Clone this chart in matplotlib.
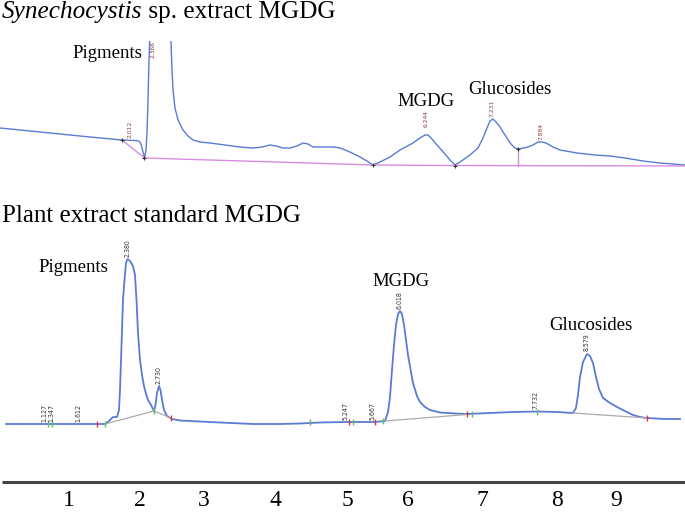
import matplotlib
matplotlib.use("Agg")
import matplotlib.pyplot as plt
from matplotlib.patches import Rectangle

# ---------------- data (pixel-like units) -------------
# Top chromatogram: Synechocystis sp. extract
top_x = [0, 30, 60, 90, 122, 135, 139, 141, 143, 144.5, 146, 147, 148, 149, 150, 152, 158,
         165, 170, 171, 172, 173, 175, 178, 183, 188, 193, 200, 210, 225, 240, 253, 262,
         270, 276, 283, 290, 297, 303, 308, 313, 320, 327, 334, 340, 350, 360, 367, 373,
         380, 390, 400, 413, 420, 425, 428, 432, 437, 445, 450, 455, 460, 470, 478, 483,
         487, 490, 493, 496, 500, 503, 507, 511, 515, 519, 523, 528, 533, 538, 542, 546,
         553, 560, 577, 595, 610, 625, 643, 660, 685]
top_y = [128, 131, 134, 137, 140, 140.5, 141, 144, 152, 158, 150, 133, 100, 60, 30, -20, -80,
         -60, 20, 42, 70, 90, 108, 120, 130, 136, 140, 142, 143, 145, 147, 148, 147,
         145, 146, 148, 148, 146, 143, 144, 147, 147, 147, 147, 148, 152, 157, 161, 165,
         162, 157, 150, 143, 138, 135, 135, 139, 145, 154, 160, 165, 162, 155, 148, 138,
         128, 121, 119, 122, 127, 132, 138, 144, 148, 149, 148, 147, 145, 142, 142, 143,
         147, 150, 153, 155, 156, 158, 161, 163, 165]
top_base1_x = [122, 144.5]
top_base1_y = [140, 158]
top_base2_x = [144.5, 373, 455, 685]
top_base2_y = [158, 165, 165.5, 166]
top_drop_x = 518
top_drop_y = [148.5, 166]
top_mark_x = [122, 144.5, 373, 455, 518]
top_mark_y = [140, 158, 165, 165.5, 148.5]
top_rt_labels = ["2.012", "2.366", "6.244", "7.231", "7.884"]
top_rt_x = [130, 153, 426, 492, 541]
top_rt_y = [138, 58, 127, 117, 140]

# Bottom chromatogram: plant extract standard MGDG
bot_x = [6, 40, 97, 105, 109, 113, 117, 119, 120, 121, 122, 123, 124.5, 126, 127.5, 130,
         133, 135, 136.5, 138, 140, 142, 144, 146, 148, 151, 154, 155.5, 157, 159, 160.5,
         162, 164, 167, 172, 180, 200, 220, 253, 280, 300, 320, 347, 375, 385, 388, 390,
         392, 394, 396, 398, 400, 402, 404, 406, 408, 411, 413, 417, 420, 425, 430, 440,
         455, 467, 490, 513, 537, 557, 573, 576, 578, 580, 583, 587, 590, 593, 596, 599,
         603, 610, 617, 625, 633, 640, 647, 665, 680]
bot_y = [424, 424, 424, 424, 421, 417, 417, 410, 390, 360, 330, 300, 280, 263, 259, 261,
         266, 275, 300, 333, 360, 375, 386, 394, 400, 405, 411, 405, 393, 386, 390,
         400, 410, 416, 419, 420.5, 421.5, 422.5, 424, 424, 423.5, 422.5, 422, 422, 421, 412, 397,
         370, 345, 325, 314, 311, 314, 325, 340, 355, 372, 383, 396, 402, 407, 410, 412.5,
         413.5, 414, 413, 412, 411.5, 412, 413, 408, 395, 377, 362, 354, 356, 363, 377, 389,
         398, 403, 407, 411, 415, 417, 418, 419, 419]
bot_base_segments = [([105, 154, 171], [424, 411, 418]),
                     ([385, 467], [421, 414.5]),
                     ([573, 647], [413, 418])]
bot_red_x = [97, 171, 349, 375, 467, 647]
bot_red_y = [424, 418, 422, 422, 414, 418]
bot_green_x = [48, 52, 105, 154, 310, 353, 383, 472, 537]
bot_green_y = [424, 424, 424, 411, 422, 422, 421, 414, 411.5]
bot_rt_labels = ["1.127", "1.347", "1.612", "2.380", "2.730", "5.247", "5.667",
                 "6.018", "7.732", "8.579"]
bot_rt_x = [44, 51, 78, 128, 159, 346, 373, 400, 535, 587]
bot_rt_y = [422, 422, 422, 257, 384, 420, 420, 309, 409, 351]

# Annotations
top_names = ["Pigments", "MGDG", "Glucosides"]
top_names_x = [107, 426, 510]
top_names_y = [53, 101, 90]
bot_names = ["Pigments", "MGDG", "Glucosides"]
bot_names_x = [73, 401, 591]
bot_names_y = [268, 281, 325]

# Bottom scale
scale_labels = ["1", "2", "3", "4", "5", "6", "7", "8", "9"]
scale_x = [69, 140, 204, 275, 347, 408, 482, 557, 616]

# ---------------- drawing ----------------------------------------------------
W, H = 685, 512
fig = plt.figure(figsize=(W / 100, H / 100), dpi=100)
ax = fig.add_axes([0, 0, 1, 1])
ax.set_xlim(0, W)
ax.set_ylim(H, 0)
ax.axis("off")

serif = "Liberation Serif"
trace_c = "#5a7bd4"

# top
clip = Rectangle((0, 41), W, 200, transform=ax.transData, visible=False)
ax.add_patch(clip)
ln, = ax.plot(top_x, top_y, color=trace_c, lw=1.0)
ln.set_clip_path(clip)
ax.plot(top_base1_x, top_base1_y, color="#d88de0", lw=1.0)
ax.plot(top_base2_x, top_base2_y, color="#d88de0", lw=1.0)
ax.plot([top_drop_x, top_drop_x], top_drop_y, color="#d88de0", lw=1.0)
ax.plot(top_mark_x, top_mark_y, ls="none", marker="+", ms=3.5, mew=0.8, color="#333333")
for t, x, y in zip(top_rt_labels, top_rt_x, top_rt_y):
    ax.text(x, y, t, rotation=90, ha="center", va="bottom", fontsize=4.3,
            color="#8a3b3b", family="DejaVu Sans")

# bottom
ax.plot(bot_x, bot_y, color=trace_c, lw=1.3)
for bx, by in bot_base_segments:
    ax.plot(bx, by, color="#aaaaaa", lw=0.9)
ax.plot(bot_red_x, bot_red_y, ls="none", marker="|", ms=5, mew=1.0, color="#e03030")
ax.plot(bot_green_x, bot_green_y, ls="none", marker="|", ms=5, mew=1.0, color="#60c060")
for t, x, y in zip(bot_rt_labels, bot_rt_x, bot_rt_y):
    ax.text(x, y, t, rotation=90, ha="center", va="bottom", fontsize=5.0,
            color="#333333", family="DejaVu Sans", fontstretch="condensed")

# names
for t, x, y in zip(top_names, top_names_x, top_names_y):
    ax.text(x, y, t, ha="center", va="center", fontsize=13.5, family=serif, color="black")
for t, x, y in zip(bot_names, bot_names_x, bot_names_y):
    ax.text(x, y, t, ha="center", va="center", fontsize=13.5, family=serif, color="black")

# titles
t1 = ax.text(2, 18, "Synechocystis", ha="left", va="baseline", fontsize=18.2,
             family=serif, style="italic", color="black")
ax.annotate(" sp. extract MGDG", xy=(1, 0), xycoords=t1, ha="left", va="bottom",
            fontsize=18.2, family=serif, color="black")
ax.text(2, 222, "Plant extract standard MGDG", ha="left", va="baseline", fontsize=18,
        family=serif, color="black")

# scale line
ax.plot([2, W], [482, 482], color="#444444", lw=2.2, solid_capstyle="butt")
for t, x in zip(scale_labels, scale_x):
    ax.text(x, 500, t, ha="center", va="center", fontsize=17, family=serif, color="black")

fig.savefig("out.png", dpi=100)
